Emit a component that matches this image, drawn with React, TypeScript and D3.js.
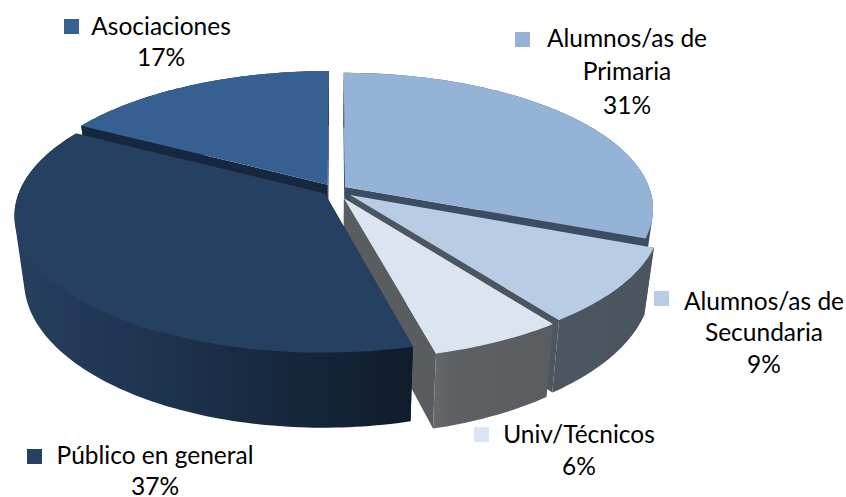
import React from "react";
import * as d3 from "d3";

const categories = ["Alumnos/as de Primaria", "Alumnos/as de Secundaria", "Univ/Técnicos", "Público en general", "Asociaciones"];
const shares = [31, 9, 6, 37, 17];
const topColors = ["#95b3d7", "#b8cce4", "#dbe5f1", "#254061", "#376092"];
const cutColors = ["#3c4c62", "#4b5661", "#5a5d60", "#16263c", "#16273f"];
const labelLines = [["Alumnos/as de", "Primaria"], ["Alumnos/as de", "Secundaria"], ["Univ/Técnicos"], ["Público en general"], ["Asociaciones"]];

const W = 846, H = 497;
const CX = 335, CY = 190;
const A = 305, B = 133, P = 0.157, DEPTH = 63, SHRINK = 0.97;
const explode = [0.04, 0.062, 0.068, 0.042, 0.047];
const drawOrder = [4, 0, 1, 2, 3];

const layout = [
  { mx: 522, my: 39, tx: 627, ys: [39, 72, 106] },
  { mx: 661, my: 298, tx: 764, ys: [302, 333, 365] },
  { mx: 481, my: 434, tx: 579, ys: [435, 467] },
  { mx: 34, my: 456, tx: 155, ys: [456, 487] },
  { mx: 71, my: 26, tx: 161, ys: [27, 58] },
];

type Pt = [number, number];
const line = d3.line<Pt>().x(d => d[0]).y(d => d[1]);

function project(r: number, th: number, mid: number, e: number, bottom: boolean): Pt {
  const mx = r * Math.sin(th) + e * Math.sin(mid);
  const my = r * Math.cos(th) + e * Math.cos(mid);
  const s = 1 / (1 + P * my);
  const x = A * mx * s;
  const y = -B * my * s;
  return bottom ? [CX + x * SHRINK, CY + y + DEPTH * s] : [CX + x, CY + y];
}

export default function App() {
  const arcs = d3.pie<number>().sort(null).value(d => d)(shares);
  const closed = (pts: Pt[]) => (line(pts) || "") + "Z";
  return (
    <svg width={W} height={H} style={{ position: "absolute", left: 0, top: 0, background: "#fff" }}>
      <defs>
        <linearGradient id="w3" gradientUnits="userSpaceOnUse" x1={12} x2={412} y1={0} y2={0}>
          <stop offset="0" stopColor="#26405f" />
          <stop offset="0.45" stopColor="#1c304a" />
          <stop offset="1" stopColor="#0f1c2c" />
        </linearGradient>
        <linearGradient id="w2" gradientUnits="userSpaceOnUse" x1={433} x2={565} y1={0} y2={0}>
          <stop offset="0" stopColor="#68696c" />
          <stop offset="0.12" stopColor="#5e6063" />
          <stop offset="1" stopColor="#595c60" />
        </linearGradient>
        <linearGradient id="w1" gradientUnits="userSpaceOnUse" x1={555} x2={655} y1={0} y2={0}>
          <stop offset="0" stopColor="#4d5660" />
          <stop offset="1" stopColor="#4a5560" />
        </linearGradient>
      </defs>
      {drawOrder.map(i => {
        const a = arcs[i];
        const mid = (a.startAngle + a.endAngle) / 2;
        const e = explode[i];
        const n = Math.max(2, Math.ceil((a.endAngle - a.startAngle) / 0.02));
        const angles = d3.range(n + 1).map(k => a.startAngle + (a.endAngle - a.startAngle) * k / n);
        const topArc = angles.map(t => project(1, t, mid, e, false));
        const botArc = angles.map(t => project(1, t, mid, e, true));
        const apexT = project(0, 0, mid, e, false);
        const apexB = project(0, 0, mid, e, true);
        const wall = i === 3 ? "url(#w3)" : i === 2 ? "url(#w2)" : i === 1 ? "url(#w1)" : cutColors[i];
        const hull = d3.polygonHull([...topArc, ...botArc]) as Pt[];
        return (
          <g key={categories[i]}>
            <path d={closed([apexT, topArc[0], botArc[0], apexB])} fill={cutColors[i]} />
            <path d={closed([apexT, topArc[n], botArc[n], apexB])} fill={cutColors[i]} />
            <path d={closed(hull)} fill={wall} />
            <path d={closed([apexT, ...topArc])} fill={topColors[i]} />
          </g>
        );
      })}
      {categories.map((c, i) => {
        const l = layout[i];
        const lines = [...labelLines[i], `${shares[i]}%`];
        return (
          <g key={c}>
            <rect x={l.mx - 7} y={l.my - 7} width={15} height={15} fill={topColors[i]} />
            {lines.map((t, k) => (
              <text key={k} x={l.tx} y={l.ys[k] + 8} textAnchor="middle" fontFamily="Lato, 'Open Sans', sans-serif" fontSize={24.5} fill="#000">{t}</text>
            ))}
          </g>
        );
      })}
    </svg>
  );
}
